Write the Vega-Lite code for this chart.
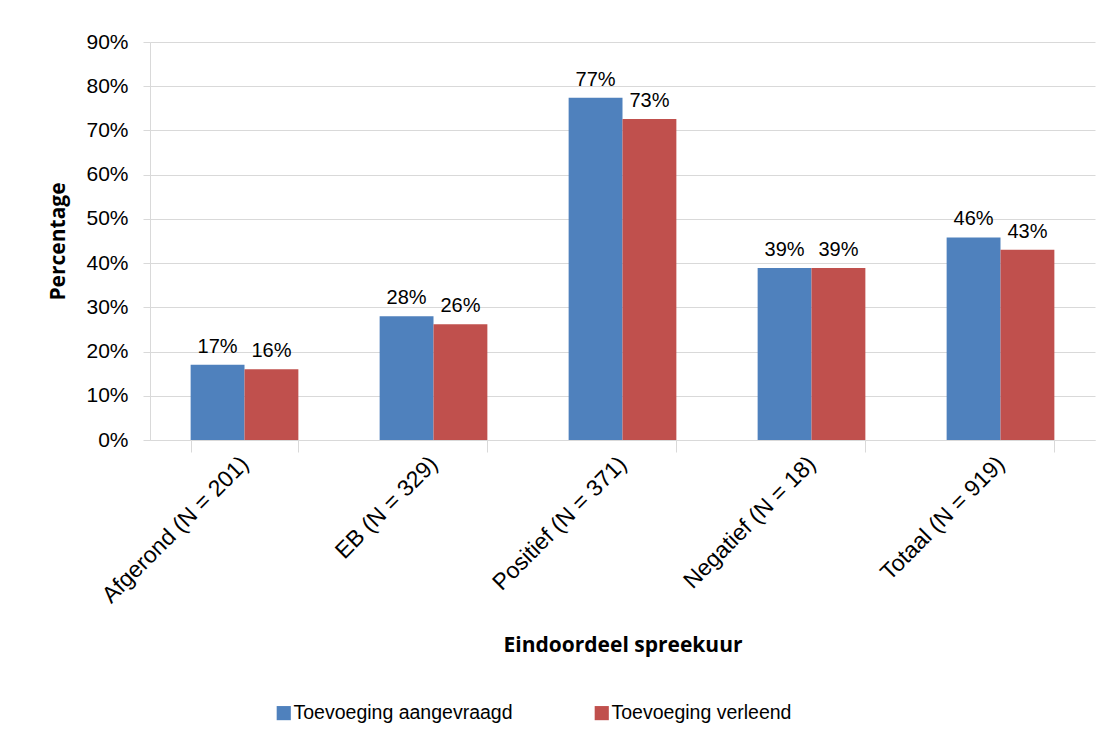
{
  "$schema": "https://vega.github.io/schema/vega-lite/v6.json",
  "autosize": "none",
  "width": 945,
  "height": 398,
  "padding": {"left": 150, "top": 42, "right": 13, "bottom": 302},
  "background": "white",
  "config": {
    "font": "Liberation Sans",
    "view": {"stroke": null},
    "axis": {"labelFont": "Liberation Sans", "labelFontSize": 21, "labelColor": "black", "titleFont": "Open Sans", "titleFontSize": 21, "titleFontWeight": "bold", "titleColor": "black", "domainColor": "#d9d9d9", "tickColor": "#d9d9d9", "gridColor": "#d9d9d9"}
  },
  "data": {"values": [
    {"cat": "Afgerond (N = 201)", "series": "Toevoeging aangevraagd", "v": 0.17},
    {"cat": "Afgerond (N = 201)", "series": "Toevoeging verleend", "v": 0.16},
    {"cat": "EB (N = 329)", "series": "Toevoeging aangevraagd", "v": 0.28},
    {"cat": "EB (N = 329)", "series": "Toevoeging verleend", "v": 0.262},
    {"cat": "Positief (N = 371)", "series": "Toevoeging aangevraagd", "v": 0.774},
    {"cat": "Positief (N = 371)", "series": "Toevoeging verleend", "v": 0.726},
    {"cat": "Negatief (N = 18)", "series": "Toevoeging aangevraagd", "v": 0.389},
    {"cat": "Negatief (N = 18)", "series": "Toevoeging verleend", "v": 0.389},
    {"cat": "Totaal (N = 919)", "series": "Toevoeging aangevraagd", "v": 0.458},
    {"cat": "Totaal (N = 919)", "series": "Toevoeging verleend", "v": 0.43}
  ]},
  "encoding": {
    "x": {"field": "cat", "type": "nominal", "sort": null,
      "scale": {"paddingInner": 0.43, "paddingOuter": 0.215},
      "axis": {"title": "Eindoordeel spreekuur", "labelAngle": -45, "labelAlign": "right", "labelBaseline": "middle", "labelFontSize": 23, "labelPadding": 8, "tickBand": "extent", "tickSize": 12, "titleY": 205, "titleBaseline": "middle", "labelLimit": 400, "labelOverlap": false}},
    "xOffset": {"field": "series", "type": "nominal"},
    "y": {"field": "v", "type": "quantitative",
      "scale": {"domain": [0, 0.9], "nice": false},
      "axis": {"title": "Percentage", "format": ".0%", "values": [0,0.1,0.2,0.3,0.4,0.5,0.6,0.7,0.8,0.9], "labelOverlap": false, "tickSize": 7, "labelPadding": 15, "titleX": -92, "titleY": 199, "titleAngle": -90, "titleBaseline": "middle", "titleAlign": "center", "grid": true}}
  },
  "layer": [
    {"mark": {"type": "bar"},
     "encoding": {"color": {"field": "series", "type": "nominal",
        "scale": {"domain": ["Toevoeging aangevraagd", "Toevoeging verleend"], "range": ["#4F81BD", "#C0504D"]},
        "legend": {"title": null, "orient": "none", "direction": "horizontal", "legendX": 124, "legendY": 661, "symbolType": "square", "symbolSize": 200, "symbolStrokeWidth": 0, "labelFontSize": 19.5, "labelFont": "Liberation Sans", "labelColor": "black", "labelLimit": 500, "columnPadding": 79, "labelOffset": 0}}}},
    {"mark": {"type": "text", "baseline": "bottom", "dy": -8, "fontSize": 20, "font": "Liberation Sans", "color": "black"},
     "encoding": {"text": {"field": "v", "type": "quantitative", "format": ".0%"}}}
  ]
}
